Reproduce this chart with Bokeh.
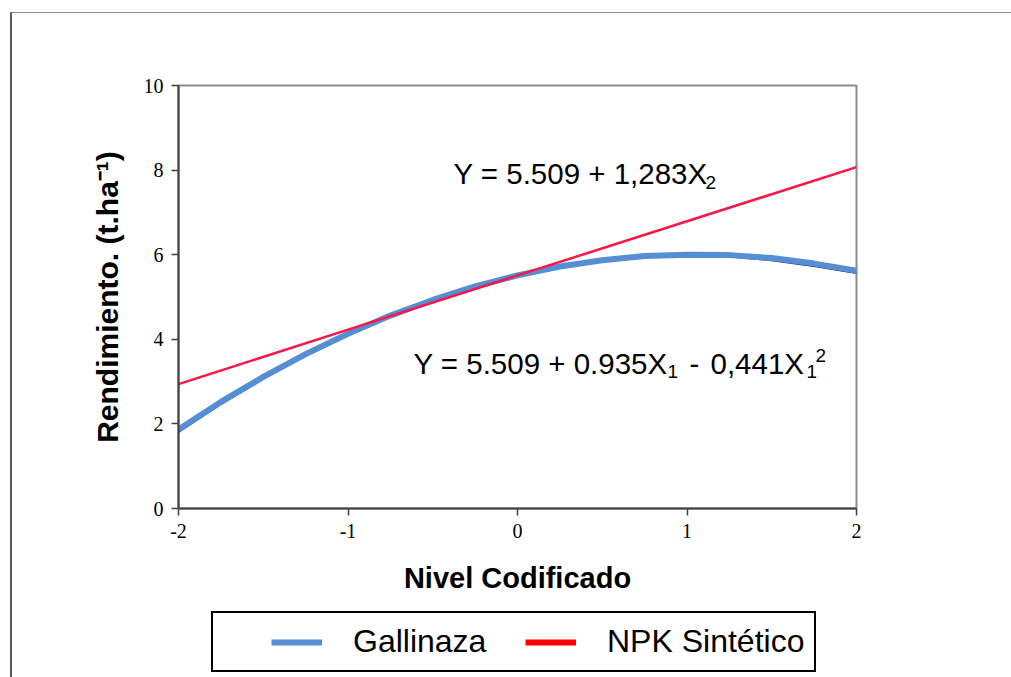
from bokeh.plotting import figure
from bokeh.layouts import column
from bokeh.models import Range1d, Label, Legend, LegendItem, FixedTicker
from bokeh.embed import file_html
from bokeh.resources import INLINE

# ---- data ----
nivel = [-2.0, -1.75, -1.5, -1.25, -1.0, -0.75, -0.5, -0.25, 0.0,
         0.25, 0.5, 0.75, 1.0, 1.25, 1.5, 1.75, 2.0]
gallinaza = [1.87, 2.52, 3.11, 3.65, 4.13, 4.56, 4.93, 5.25, 5.51,
             5.72, 5.87, 5.97, 6.00, 5.99, 5.92, 5.79, 5.62]
gallinaza_datos = [1.81, 2.47, 3.07, 3.62, 4.11, 4.56, 4.93, 5.25, 5.51,
                   5.72, 5.87, 5.96, 5.99, 5.96, 5.87, 5.73, 5.57]
npk_x = [-2, -1, 0, 1, 2]
npk = [2.94, 4.23, 5.51, 6.79, 8.07]
x_ticks = [-2, -1, 0, 1, 2]
y_ticks = [0, 2, 4, 6, 8, 10]
x_tick_labels = ["-2", "-1", "0", "1", "2"]
y_tick_labels = ["0", "2", "4", "6", "8", "10"]
series_names = ["Gallinaza", "NPK Sintético"]
x_title = "Nivel Codificado"
y_title = "Rendimiento. (t.ha\u207b\u00b9)"

# ---- layout (page pixels) ----
W, H = 1011, 677
OX, OY = 12, 13              # where the figures start inside the outer frame
SPLIT = 605                  # page y where the legend strip begins
FL, FR, FT, FB = 178, 856, 85, 508
X0, X1, Y0, Y1 = -2, 2, 0, 10

def dx(px):
    return X0 + (px - FL) / (FR - FL) * (X1 - X0)

def dy(py):
    return Y1 - (py - FT) / (FB - FT) * (Y1 - Y0)

p = figure(width=W - OX, height=SPLIT - OY,
           x_range=Range1d(X0, X1), y_range=Range1d(Y0, Y1),
           output_backend="svg", toolbar_location=None,
           min_border_left=FL - OX, min_border_right=W - FR,
           min_border_top=FT - OY, min_border_bottom=SPLIT - FB)
p.frame_align = False
p.background_fill_color = "white"
p.border_fill_color = "white"
p.outline_line_color = "#8c8c8c"
p.outline_line_width = 2
p.grid.visible = False

p.xaxis.ticker = FixedTicker(ticks=x_ticks)
p.yaxis.ticker = FixedTicker(ticks=y_ticks)
p.xaxis.major_label_overrides = {t: s for t, s in zip(x_ticks, x_tick_labels)}
p.yaxis.major_label_overrides = {t: s for t, s in zip(y_ticks, y_tick_labels)}
p.axis.minor_tick_line_color = None
p.axis.major_tick_in = 0
p.axis.major_tick_out = 7
p.axis.axis_line_color = "#404040"
p.axis.axis_line_width = 2
p.axis.major_tick_line_color = "#404040"
p.axis.major_tick_line_width = 1.5
p.axis.major_label_text_font = "Liberation Serif"
p.axis.major_label_text_font_size = "20px"
p.axis.major_label_text_color = "black"
p.axis.axis_label_text_font = "Liberation Sans"
p.axis.axis_label_text_font_style = "bold"
p.axis.axis_label_text_color = "black"
p.xaxis.axis_label_text_font_size = "29px"
p.yaxis.axis_label_text_font_size = "30px"
p.xaxis.axis_label = x_title
p.yaxis.axis_label = y_title
p.yaxis.major_label_standoff = 8
p.xaxis.major_label_standoff = 8
p.yaxis.axis_label_standoff = 17
p.xaxis.axis_label_standoff = 21

# ---- series ----
p.line(nivel, gallinaza_datos, line_color="#0b1b70", line_width=2)
p.line(nivel, gallinaza, line_color="#558ED5", line_width=6)
p.line(npk_x, npk, line_color="#FF1446", line_width=2.5)

# ---- equations ----
EQ = dict(text_font="Liberation Sans", text_color="black", text_baseline="alphabetic")
def lab(px, py, txt, size):
    p.add_layout(Label(x=dx(px), y=dy(py), text=txt, text_font_size=size, **EQ))

lab(453, 173, "Y = 5.509 + 1,283X", "29.5px")
lab(705, 182, "2", "19px")
lab(413, 363, "Y = 5.509 + 0.935X", "29.5px")
lab(667, 371, "1", "19px")
lab(689, 363, "-", "29.5px")
lab(710, 363, "0,441X", "29.5px")
lab(806, 371, "1", "19px")
lab(815, 355, "2", "19px")

# ---- legend strip (separate figure, legend inside its frame) ----
q = figure(width=W - OX, height=H - SPLIT, x_range=Range1d(10, 11), y_range=Range1d(10, 11),
           output_backend="svg", toolbar_location=None,
           x_axis_type=None, y_axis_type=None, min_border=0)
q.frame_align = False
q.outline_line_color = None
q.grid.visible = False
q.background_fill_color = "white"
q.border_fill_color = "white"
rg = q.line(nivel, gallinaza, line_color="#558ED5", line_width=6)
rn = q.line(npk_x, npk, line_color="#FF0000", line_width=6)
legend = Legend(items=[LegendItem(label=series_names[0], renderers=[rg]),
                       LegendItem(label=series_names[1], renderers=[rn])],
                orientation="horizontal", location=(211 - OX, H - 672),
                title="\u00a0", title_location="left", title_text_font_size="10px",
                title_standoff=37,
                padding=10, margin=0, spacing=0, label_standoff=31,
                label_width=172,
                glyph_width=51, glyph_height=30,
                label_text_font="Liberation Sans", label_text_font_size="32px",
                label_text_color="black",
                border_line_color="black", border_line_width=2, border_line_alpha=1,
                background_fill_color="white", background_fill_alpha=1)
q.add_layout(legend)

page = column(p, q, spacing=0,
              styles={"margin-left": "10px", "margin-top": "12px",
                      "border-left": "2px solid #5a5a5a",
                      "border-top": "1px solid #8c8c8c"})

open("out.html", "w").write(file_html(page, INLINE))
